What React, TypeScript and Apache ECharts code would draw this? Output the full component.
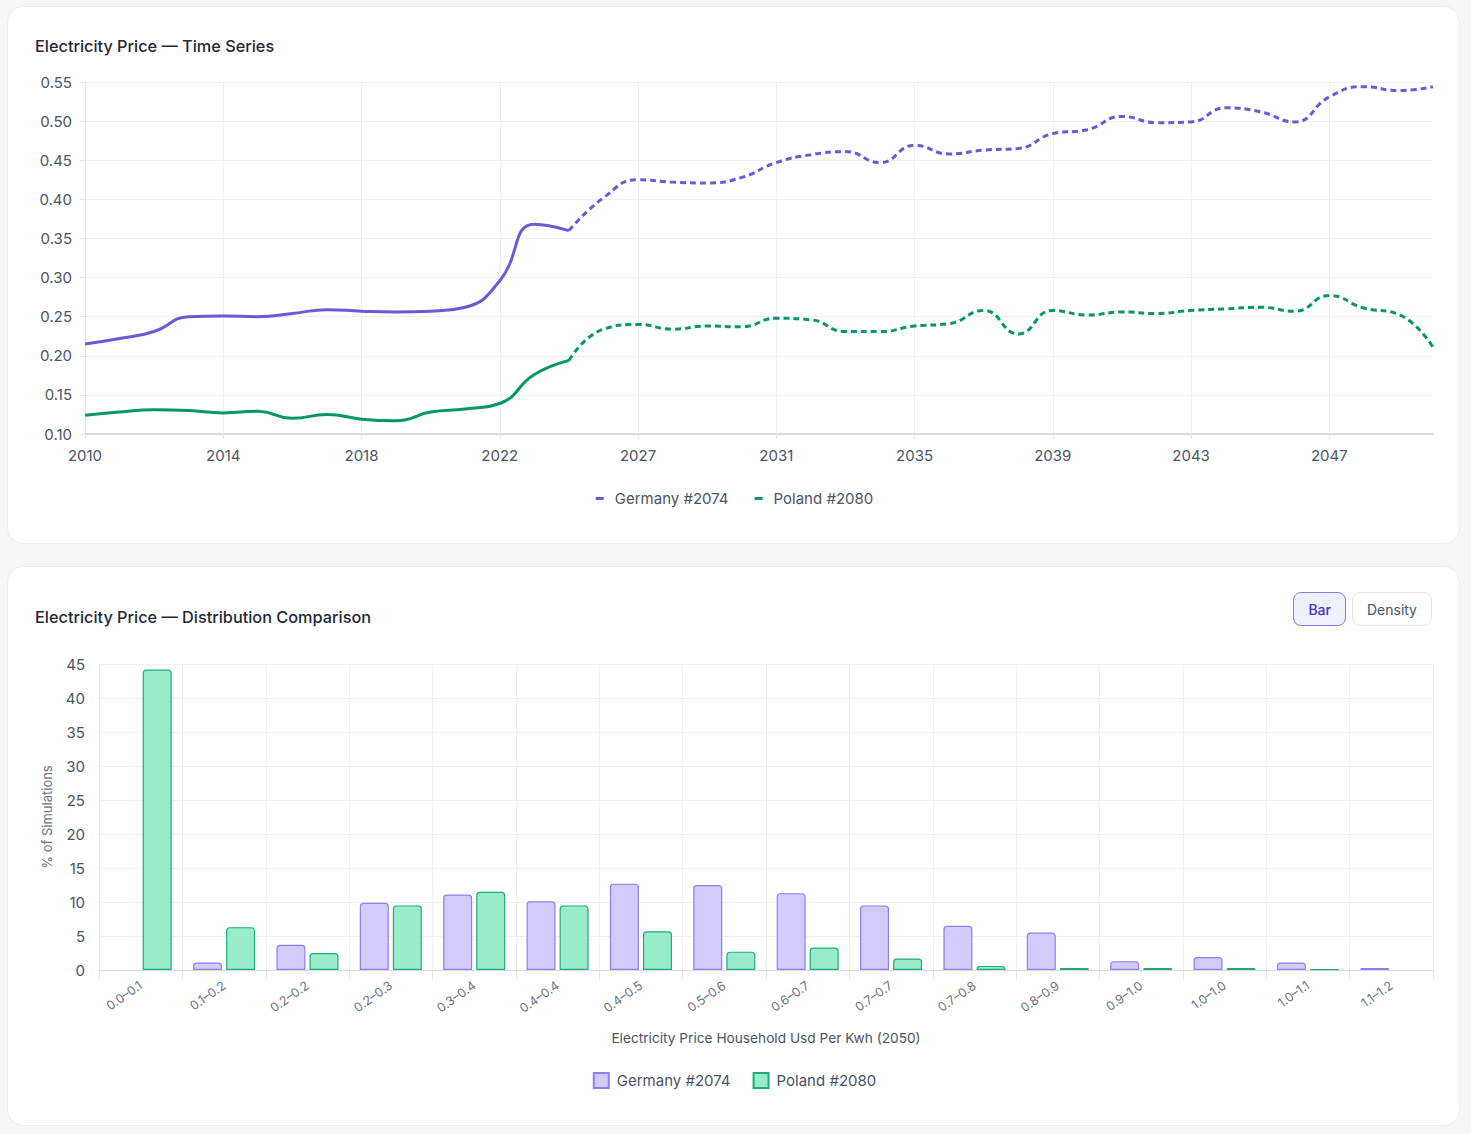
import { useEffect, useRef } from 'react'
import * as echarts from 'echarts'

// time series
const years = [
  '2010', '2011', '2012', '2013', '2014', '2015', '2016', '2017', '2018', '2019',
  '2020', '2021', '2022', '2023', '2024', '2026', '2027', '2028', '2029', '2030',
  '2031', '2032', '2033', '2034', '2035', '2036', '2037', '2038', '2039', '2040',
  '2041', '2042', '2043', '2044', '2045', '2046', '2047', '2048', '2049', '2050'
]
const germanyPrice = [
  0.215, 0.222, 0.231, 0.250, 0.251, 0.250, 0.254, 0.259, 0.257, 0.256,
  0.257, 0.262, 0.296, 0.368, 0.360, 0.402, 0.425, 0.422, 0.421, 0.428,
  0.447, 0.457, 0.461, 0.447, 0.469, 0.458, 0.463, 0.465, 0.484, 0.489,
  0.506, 0.498, 0.499, 0.517, 0.512, 0.499, 0.531, 0.544, 0.539, 0.544
]
const polandPrice = [
  0.124, 0.128, 0.131, 0.130, 0.127, 0.129, 0.120, 0.125, 0.119, 0.117,
  0.128, 0.132, 0.139, 0.176, 0.194, 0.234, 0.240, 0.234, 0.238, 0.237,
  0.248, 0.246, 0.231, 0.231, 0.238, 0.241, 0.258, 0.228, 0.258, 0.252,
  0.256, 0.254, 0.258, 0.260, 0.262, 0.257, 0.277, 0.261, 0.253, 0.211
]
const lastHistoricIndex = 14

// distribution
const priceBins = [
  '0.0–0.1', '0.1–0.2', '0.2–0.2', '0.2–0.3', '0.3–0.4', '0.4–0.4', '0.4–0.5', '0.5–0.6',
  '0.6–0.7', '0.7–0.7', '0.7–0.8', '0.8–0.9', '0.9–1.0', '1.0–1.0', '1.0–1.1', '1.1–1.2'
]
const germanyShare = [0, 1.1, 3.7, 9.9, 11.1, 10.1, 12.7, 12.5, 11.3, 9.5, 6.5, 5.5, 1.3, 1.9, 1.1, 0.3]
const polandShare = [44.2, 6.3, 2.5, 9.5, 11.5, 9.5, 5.7, 2.7, 3.3, 1.7, 0.6, 0.3, 0.3, 0.3, 0.1, 0]

const GERMANY = 'Germany #2074'
const POLAND = 'Poland #2080'
const FONT = 'Inter, "Noto Sans", sans-serif'

function splitSeries(values: number[], historic: boolean) {
  return values.map((v, i) =>
    historic ? (i <= lastHistoricIndex ? v : '-') : (i >= lastHistoricIndex ? v : '-')
  )
}

// empty bins draw no bar at all
const hideZero = (values: number[]) => values.map(v => (v === 0 ? '-' : v))

function TimeSeriesChart() {
  const chartRef = useRef<HTMLDivElement>(null)

  useEffect(() => {
    if (!chartRef.current) return
    const chart = echarts.init(chartRef.current, undefined, { renderer: 'svg' })

    const lineSeries = (name: string, color: string, values: number[], historic: boolean) => ({
      name,
      type: 'line' as const,
      smooth: 0.5,
      showSymbol: false,
      symbol: 'none',
      data: splitSeries(values, historic),
      itemStyle: { color },
      lineStyle: { color, width: 3, type: historic ? 'solid' : [6, 4] }
    })

    chart.setOption({
      animation: false,
      textStyle: { fontFamily: FONT },
      grid: { left: 77, right: 28, top: 75, bottom: 111 },
      legend: {
        data: [GERMANY, POLAND],
        bottom: 34,
        icon: 'rect',
        itemWidth: 8,
        itemHeight: 3,
        itemGap: 26,
        textStyle: { color: '#4b5563', fontSize: 15, fontFamily: FONT, padding: [0, 0, 0, 6] }
      },
      xAxis: {
        type: 'category',
        data: years,
        boundaryGap: false,
        axisLine: { lineStyle: { color: '#d9dbe0', width: 2 } },
        axisTick: { show: true, interval: 3, lineStyle: { color: '#e5e7eb' } },
        axisLabel: { interval: 3, color: '#4b5563', fontSize: 15, margin: 14 },
        splitLine: { show: true, interval: 3, lineStyle: { color: '#eef0f3' } }
      },
      yAxis: {
        type: 'value',
        min: 0.1,
        max: 0.55,
        interval: 0.05,
        axisLine: { show: true, lineStyle: { color: '#e5e7eb' } },
        axisTick: { show: true, lineStyle: { color: '#e5e7eb' } },
        axisLabel: { color: '#4b5563', fontSize: 15, margin: 13, formatter: (v: number) => v.toFixed(2) },
        splitLine: { lineStyle: { color: '#eef0f3' } }
      },
      series: [
        lineSeries(GERMANY, '#6a5ad6', germanyPrice, true),
        lineSeries(GERMANY, '#6a5ad6', germanyPrice, false),
        lineSeries(POLAND, '#079669', polandPrice, true),
        lineSeries(POLAND, '#079669', polandPrice, false)
      ]
    })

    return () => chart.dispose()
  }, [])

  return <div ref={chartRef} style={{ position: 'absolute', left: 0, top: 0, width: 1453, height: 538 }} />
}

function DistributionChart() {
  const chartRef = useRef<HTMLDivElement>(null)

  useEffect(() => {
    if (!chartRef.current) return
    const chart = echarts.init(chartRef.current, undefined, { renderer: 'svg' })

    chart.setOption({
      animation: false,
      textStyle: { fontFamily: FONT },
      grid: { left: 91, right: 28, top: 97, bottom: 157 },
      legend: {
        data: [GERMANY, POLAND],
        bottom: 33,
        icon: 'rect',
        itemWidth: 15,
        itemHeight: 15,
        itemGap: 22,
        textStyle: { color: '#4b5563', fontSize: 15, fontFamily: FONT, padding: [0, 0, 0, 3] }
      },
      xAxis: {
        type: 'category',
        data: priceBins,
        name: 'Electricity Price Household Usd Per Kwh (2050)',
        nameLocation: 'middle',
        nameGap: 61,
        nameTextStyle: { color: '#4b5563', fontSize: 13.7 },
        axisLine: { lineStyle: { color: '#d9dbe0' } },
        axisTick: { show: true, lineStyle: { color: '#e5e7eb' }, length: 10 },
        axisLabel: { rotate: 35, color: '#6b7280', fontSize: 12.5, margin: 14 },
        splitLine: { show: true, lineStyle: { color: '#eef0f3' } }
      },
      yAxis: {
        type: 'value',
        min: 0,
        max: 45,
        interval: 5,
        name: '% of Simulations',
        nameLocation: 'middle',
        nameGap: 46,
        nameTextStyle: { color: '#6b7280', fontSize: 13 },
        axisLine: { show: true, lineStyle: { color: '#e5e7eb' } },
        axisLabel: { color: '#4b5563', fontSize: 15, margin: 14 },
        splitLine: { lineStyle: { color: '#eef0f3' } }
      },
      series: [
        {
          name: GERMANY,
          type: 'bar',
          data: hideZero(germanyShare),
          barWidth: 29,
          barGap: '14%',
          itemStyle: { color: '#d3cbfc', borderColor: '#8d7ff0', borderWidth: 1.2, borderRadius: [3, 3, 0, 0] }
        },
        {
          name: POLAND,
          type: 'bar',
          data: hideZero(polandShare),
          barWidth: 29,
          barGap: '14%',
          itemStyle: { color: '#98ecca', borderColor: '#22ab7a', borderWidth: 1.2, borderRadius: [3, 3, 0, 0] }
        }
      ]
    })

    return () => chart.dispose()
  }, [])

  return <div ref={chartRef} style={{ position: 'absolute', left: 0, top: 0, width: 1453, height: 560 }} />
}

const cardStyle: React.CSSProperties = {
  position: 'relative',
  width: 1453,
  background: '#ffffff',
  border: '1px solid #eceef2',
  borderRadius: 16,
  boxSizing: 'border-box'
}

const titleStyle: React.CSSProperties = {
  position: 'absolute',
  left: 27,
  margin: 0,
  fontFamily: FONT,
  fontSize: 16.3,
  fontWeight: 500,
  color: '#1f2937',
  zIndex: 2,
  lineHeight: '22px'
}

const buttonBase: React.CSSProperties = {
  height: 34,
  borderRadius: 8,
  fontFamily: FONT,
  fontSize: 14,
  padding: '0 14px',
  boxSizing: 'border-box',
  background: '#ffffff',
  border: '1px solid #e5e7eb',
  color: '#4b5563',
  cursor: 'pointer'
}

export default function App() {
  useEffect(() => {
    document.body.style.margin = '0'
    document.body.style.background = '#f6f7f9'
  }, [])

  return (
    <div style={{ padding: '6px 7px', background: '#f6f7f9', width: 1471, boxSizing: 'border-box' }}>
      <div style={{ ...cardStyle, height: 538 }}>
        <h3 style={{ ...titleStyle, top: 28 }}>Electricity Price — Time Series</h3>
        <TimeSeriesChart />
      </div>
      <div style={{ ...cardStyle, height: 560, marginTop: 22 }}>
        <h3 style={{ ...titleStyle, top: 39 }}>Electricity Price — Distribution Comparison</h3>
        <div style={{ position: 'absolute', right: 27, top: 25, display: 'flex', gap: 6, zIndex: 2 }}>
          <button style={{ ...buttonBase, background: '#eef0fe', border: '1px solid #7b7ff0', color: '#3f37c9', fontWeight: 500 }}>Bar</button>
          <button style={buttonBase}>Density</button>
        </div>
        <DistributionChart />
      </div>
    </div>
  )
}
